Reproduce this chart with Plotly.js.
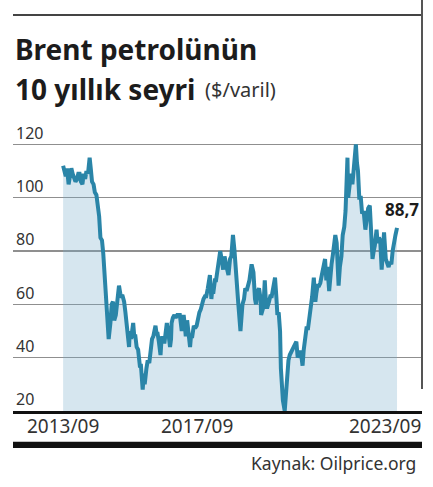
<!DOCTYPE html>
<html>
<head>
<meta charset="utf-8">
<script src="https://cdn.plot.ly/plotly-3.0.1.min.js"></script>
<style>
html,body{margin:0;padding:0;background:#fff;}
#chart{width:433px;height:487px;}
</style>
</head>
<body>
<div id="chart"></div>
<script>
// Brent weekly-ish prices ($/barrel)
const dates = [
"2013-09-02","2013-09-16","2013-10-01","2013-10-15","2013-11-01","2013-11-15","2013-12-01","2013-12-15",
"2014-01-01","2014-01-15","2014-02-01","2014-02-15","2014-03-01","2014-03-15","2014-04-01","2014-04-15",
"2014-05-01","2014-05-15","2014-06-01","2014-06-19","2014-07-01","2014-07-15","2014-08-01","2014-08-15",
"2014-09-01","2014-09-15","2014-10-01","2014-10-15","2014-11-01","2014-11-15","2014-12-01","2014-12-15",
"2015-01-01","2015-01-13","2015-02-01","2015-02-15","2015-03-01","2015-03-15","2015-04-01","2015-04-15",
"2015-05-06","2015-05-20","2015-06-01","2015-06-15","2015-07-01","2015-07-15","2015-08-01","2015-08-24",
"2015-09-01","2015-09-15","2015-10-08","2015-10-20","2015-11-01","2015-11-15","2015-12-01","2015-12-20",
"2016-01-01","2016-01-20","2016-02-01","2016-02-11","2016-03-01","2016-03-15","2016-04-01","2016-04-15",
"2016-05-01","2016-05-15","2016-06-08","2016-06-20","2016-07-01","2016-07-15","2016-08-02","2016-08-15",
"2016-09-01","2016-09-15","2016-10-10","2016-10-25","2016-11-14","2016-11-25","2016-12-01","2016-12-15",
"2017-01-01","2017-01-15","2017-02-01","2017-02-15","2017-03-01","2017-03-22","2017-04-12","2017-04-25",
"2017-05-05","2017-05-20","2017-06-01","2017-06-21","2017-07-01","2017-07-15","2017-08-01","2017-08-15",
"2017-09-01","2017-09-15","2017-10-01","2017-10-15","2017-11-01","2017-11-15","2017-12-01","2017-12-15",
"2018-01-01","2018-01-24","2018-02-09","2018-02-20","2018-03-01","2018-03-20","2018-04-01","2018-04-20",
"2018-05-01","2018-05-17","2018-06-01","2018-06-18","2018-07-03","2018-07-15","2018-08-01","2018-08-15",
"2018-09-01","2018-09-15","2018-10-03","2018-10-20","2018-11-01","2018-11-15","2018-12-01","2018-12-24",
"2019-01-01","2019-01-15","2019-02-01","2019-02-15","2019-03-01","2019-03-15","2019-04-01","2019-04-25",
"2019-05-15","2019-06-01","2019-06-12","2019-07-01","2019-07-15","2019-08-01","2019-08-07","2019-09-01",
"2019-09-16","2019-10-01","2019-10-15","2019-11-01","2019-11-15","2019-12-01","2019-12-20",
"2020-01-06","2020-01-20","2020-02-01","2020-02-15","2020-03-01","2020-03-10","2020-03-20","2020-04-01",
"2020-04-21","2020-05-01","2020-05-15","2020-06-01","2020-06-15","2020-07-01","2020-07-15","2020-08-01",
"2020-08-26","2020-09-10","2020-09-25","2020-10-15","2020-11-02","2020-11-15","2020-12-01","2020-12-15",
"2021-01-01","2021-01-15","2021-02-01","2021-02-15","2021-03-05","2021-03-22","2021-04-01","2021-04-15",
"2021-05-01","2021-05-15","2021-06-01","2021-06-21","2021-07-06","2021-07-20","2021-08-01","2021-08-20",
"2021-09-01","2021-09-15","2021-10-01","2021-10-26","2021-11-10","2021-12-01","2021-12-15",
"2022-01-01","2022-01-15","2022-02-01","2022-02-15","2022-03-08","2022-03-16","2022-04-01","2022-04-15",
"2022-05-01","2022-05-15","2022-06-08","2022-06-20","2022-07-01","2022-07-15","2022-08-01","2022-08-15",
"2022-09-01","2022-09-20","2022-10-03","2022-10-20","2022-11-07","2022-11-20","2022-12-07","2022-12-20",
"2023-01-01","2023-01-20","2023-02-01","2023-02-15","2023-03-01","2023-03-17","2023-04-01","2023-04-12",
"2023-05-01","2023-05-15","2023-06-01","2023-06-15","2023-07-01","2023-07-15","2023-08-01","2023-08-15",
"2023-09-01"
];
const prices = [
112,110,108,111,105,108,111,109,
107,106,107,109,109,106,105,109,
107,110,109,115,111,106,105,102,
101,97,93,85,84,79,70,61,
56,47,53,60,61,54,56,62,
67,64,63,63,61,57,52,44,
50,47,53,48,48,44,43,37,
37,28,34,30,36,39,38,43,
47,48,52,49,49,46,41,48,
46,46,53,50,44,47,53,55,
56,55,56,56,56,50,56,52,
48,54,50,44,48,48,52,51,
52,55,57,58,61,62,63,63,
66,71,62,66,64,69,69,74,
75,80,77,73,78,75,73,71,
77,78,86,80,73,66,60,50,
54,60,62,66,65,67,69,75,
72,62,60,65,66,62,56,59,
69,59,59,61,63,63,66,
70,63,56,57,50,36,28,24,
20,26,33,39,41,42,43,44,
46,40,42,42,37,43,48,51,
51,55,57,63,70,61,64,67,
67,68,71,75,77,69,74,65,
72,75,79,86,83,67,74,
78,86,89,95,115,100,104,109,
105,110,120,113,110,100,100,94,
95,88,92,96,97,87,77,80,
82,88,83,85,84,73,79,87,
77,75,74,76,75,80,85,86,
88.7
];
const yTicks = [20,40,60,80,100,120];
const xTickDates = ["2013-09-01","2017-09-01","2023-09-01"];
const xTickLabels = ["2013/09","2017/09","2023/09"];
const lastLabel = "88,7";

const FONT = "Noto Sans, DejaVu Sans, sans-serif";
const lastIdx = dates.length - 1;

const traces = [
  {
    x: dates, y: prices, type: "scatter", mode: "lines",
    fill: "tozeroy", fillcolor: "rgba(118,172,202,0.30)",
    line: {color: "#2a85a8", width: 4, shape: "linear"},
    hoverinfo: "skip"
  }
];

const annotations = [
  {xref:"paper", yref:"paper", x:0, y:1.293, xanchor:"left", yanchor:"middle",
   text:"<b>Brent petrolünün</b>", showarrow:false,
   font:{family:FONT, size:28, color:"#1c1c1c"}},
  {xref:"paper", yref:"paper", x:0, y:1.150, xanchor:"left", yanchor:"middle",
   text:"<b>10 yıllık seyri</b>", showarrow:false,
   font:{family:FONT, size:28, color:"#1c1c1c"}},
  {xref:"paper", yref:"paper", x:(203-13)/409, y:1.147, xanchor:"left", yanchor:"middle",
   text:"($/varil)", showarrow:false,
   font:{family:FONT, size:20, color:"#333"}},
  {xref:"x", yref:"y", x:dates[lastIdx], y:prices[lastIdx], xanchor:"right", yanchor:"bottom",
   xshift:24, yshift:5, text:"<b>"+lastLabel+"</b>", showarrow:false,
   font:{family:FONT, size:17, color:"#1c1c1c"}},
  {xref:"paper", yref:"paper", x:1-4/409, y:-0.186, xanchor:"right", yanchor:"middle",
   text:"Kaynak: Oilprice.org", showarrow:false,
   font:{family:FONT, size:17.5, color:"#333"}}
];
xTickDates.forEach((d,i)=>{
  annotations.push({
    xref:"x", yref:"paper", x:d, y:-0.052, yanchor:"middle",
    xanchor: i===xTickDates.length-1 ? "right" : "center",
    xshift: i===xTickDates.length-1 ? 26 : 0,
    text:xTickLabels[i], showarrow:false,
    font:{family:FONT, size:19, color:"#333"}
  });
});

const shapes = [
  {type:"line", xref:"paper", yref:"paper", x0:0, x1:1, y0:(411-15)/280, y1:(411-15)/280,
   line:{color:"#444", width:2}},
  {type:"line", xref:"paper", yref:"paper", x0:1, x1:1, y0:(411-389)/280, y1:(411-0)/280,
   line:{color:"#555", width:2}},
  {type:"rect", xref:"paper", yref:"paper", x0:0, x1:1, y0:(411-448)/280, y1:(411-441.7)/280,
   line:{width:0}, fillcolor:"#111"}
];

const layout = {
  width:433, height:487,
  margin:{l:13, r:11, t:131, b:76, pad:0},
  paper_bgcolor:"#fff", plot_bgcolor:"#fff",
  showlegend:false,
  font:{family:FONT, color:"#333"},
  xaxis:{
    type:"date", range:["2012-03-03","2024-05-31"],
    showgrid:false, zeroline:false, showticklabels:false, ticks:"",
    showline:true, linecolor:"#111", linewidth:2.5, fixedrange:true
  },
  yaxis:{
    range:[20,125], tickvals:yTicks, ticktext:yTicks.map(String),
    showgrid:true, gridcolor:"#8f8f8f", gridwidth:1.2, zeroline:false,
    ticks:"", ticklabelposition:"inside top", ticklabeloverflow:"allow",
    tickfont:{family:FONT, size:16, color:"#333"}, showline:false, fixedrange:true
  },
  annotations: annotations,
  shapes: shapes
};

Plotly.newPlot("chart", traces, layout, {displayModeBar:false, staticPlot:true});
</script>
</body>
</html>
